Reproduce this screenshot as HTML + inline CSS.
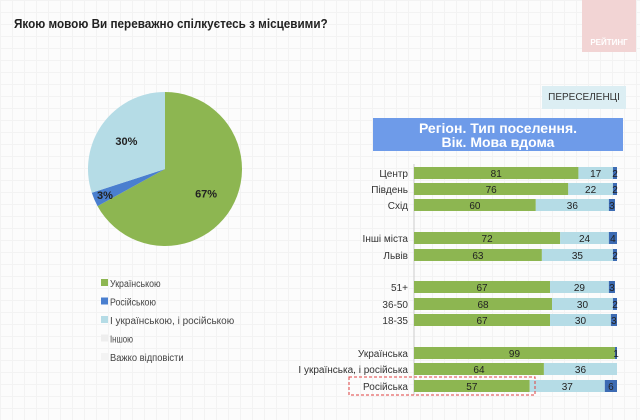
<!DOCTYPE html>
<html><head><meta charset="utf-8"><style>
body{margin:0;width:640px;height:420px;overflow:hidden;background:#fcfcfc;font-family:"Liberation Sans",sans-serif;}
#wrap{position:relative;width:640px;height:420px;
background-image:linear-gradient(#f3f3f3 1px,transparent 1px),linear-gradient(90deg,#f3f3f3 1px,transparent 1px);background-size:12px 12px;}
</style></head><body>
<div id="wrap">
<div style="position:absolute;left:14px;top:16px;font-size:13px;font-weight:bold;color:#222;transform:scaleX(0.9);transform-origin:left top;white-space:nowrap">Якою мовою Ви переважно спілкуєтесь з місцевими?</div>
<div style="position:absolute;left:582px;top:0;width:54px;height:52px;background:#f2d4d4"><span style="position:absolute;bottom:5px;left:0;width:54px;text-align:center;color:#fff;font-size:8px;font-weight:bold">РЕЙТИНГ</span></div>
<div style="position:absolute;left:542px;top:86px;width:84px;height:23px;background:#dceef3;font-size:10px;color:#333;line-height:23px;text-align:center">ПЕРЕСЕЛЕНЦІ</div>
<div style="position:absolute;left:373px;top:118px;width:250px;height:33px;background:#6e9be9;color:#fff;font-size:14px;font-weight:bold;text-align:center;line-height:14px;padding-top:3px;box-sizing:border-box">Регіон. Тип поселення.<br>Вік. Мова вдома</div>
<svg id="svg" width="640" height="420" style="position:absolute;left:0;top:0"></svg>
</div>
<script>
const pieLabels=["Українською","Російською","І українською, і російською","Іншою","Важко відповісти"];
const pieValues=[67,3,30,0,0];
const pieColors=["#8db651","#4a7fcf","#b5dce6","#eeeeee","#f3f3f3"];
const barCats=["Центр","Південь","Схід","Інші міста","Львів","51+","36-50","18-35","Українська","І українська, і російська","Російська"];
const barUkr=[81,76,60,72,63,67,68,67,99,64,57];
const barBoth=[17,22,36,24,35,29,30,30,0,36,37];
const barRus=[2,2,3,4,2,3,2,3,1,0,6];
const NS="http://www.w3.org/2000/svg";
const svg=document.getElementById('svg');
function mk(t,a,txt){const e=document.createElementNS(NS,t);for(const k in a)e.setAttribute(k,a[k]);if(txt!=null)e.textContent=txt;svg.appendChild(e);return e;}
// pie
const cx=165,cy=169,r=77;
let total=pieValues.reduce((a,b)=>a+b,0),acc=0;
pieValues.forEach((v,i)=>{
 if(v<=0)return;
 const a0=acc/total*2*Math.PI,a1=(acc+v)/total*2*Math.PI;acc+=v;
 const x0=cx+r*Math.sin(a0),y0=cy-r*Math.cos(a0),x1=cx+r*Math.sin(a1),y1=cy-r*Math.cos(a1);
 const p=mk('path',{d:`M${cx},${cy}L${x0},${y0}A${r},${r} 0 ${a1-a0>Math.PI?1:0} 1 ${x1},${y1}Z`,fill:pieColors[i]});
 
 
 const am=(a0+a1)/2, lr=i==1?r*0.85:r*0.62;
 const t=mk('text',{x:cx+lr*Math.sin(am),y:cy-lr*Math.cos(am)+4,'text-anchor':'middle','font-size':11,'font-weight':'bold',fill:'#222'},v+'%');
 
 
});
pieLabels.forEach((l,i)=>{
 const y=283+i*18.5;
 const s=mk('rect',{x:101,y:y-4,width:7,height:7,fill:pieColors[i]});
 
 
 const t=mk('text',{x:110,y:y+4,'font-size':10,fill:'#444','textLength':l.length*4.6,'lengthAdjust':'spacingAndGlyphs'},l);
 
 
});
// bars
const x0=414,W=203;
const rowY=[173,189,205,238,255,287,304,320,353,369,386];
const xs=v=>v/100*W;
const ax=mk('line',{x1:x0,y1:164,x2:x0,y2:395,stroke:'#ccc','stroke-width':1});


barCats.forEach((c,i)=>{
 const y=rowY[i]-6,h=12;
 const t=mk('text',{x:x0-6,y:rowY[i]+4,'text-anchor':'end','font-size':10,fill:'#333'},c);
 
 
 let x=x0;
 [[barUkr,'#8db651'],[barBoth,'#b5dce6'],[barRus,'#3c6bb3']].forEach(([arr,col],k)=>{
  const v=arr[i];if(v<=0)return;
  const b=mk('rect',{x:x,y:y,width:xs(v),height:h,fill:col});
  
  
  const lt=mk('text',{x:x+xs(v)/2,y:rowY[i]+4,'text-anchor':'middle','font-size':10,fill:'#222'},v);
  
  
  x+=xs(v);
 });
});
const hl=mk('rect',{x:349,y:377,width:186,height:18,fill:'none',stroke:'#e04040','stroke-dasharray':'3,2','stroke-width':1});


</script>
</body></html>
